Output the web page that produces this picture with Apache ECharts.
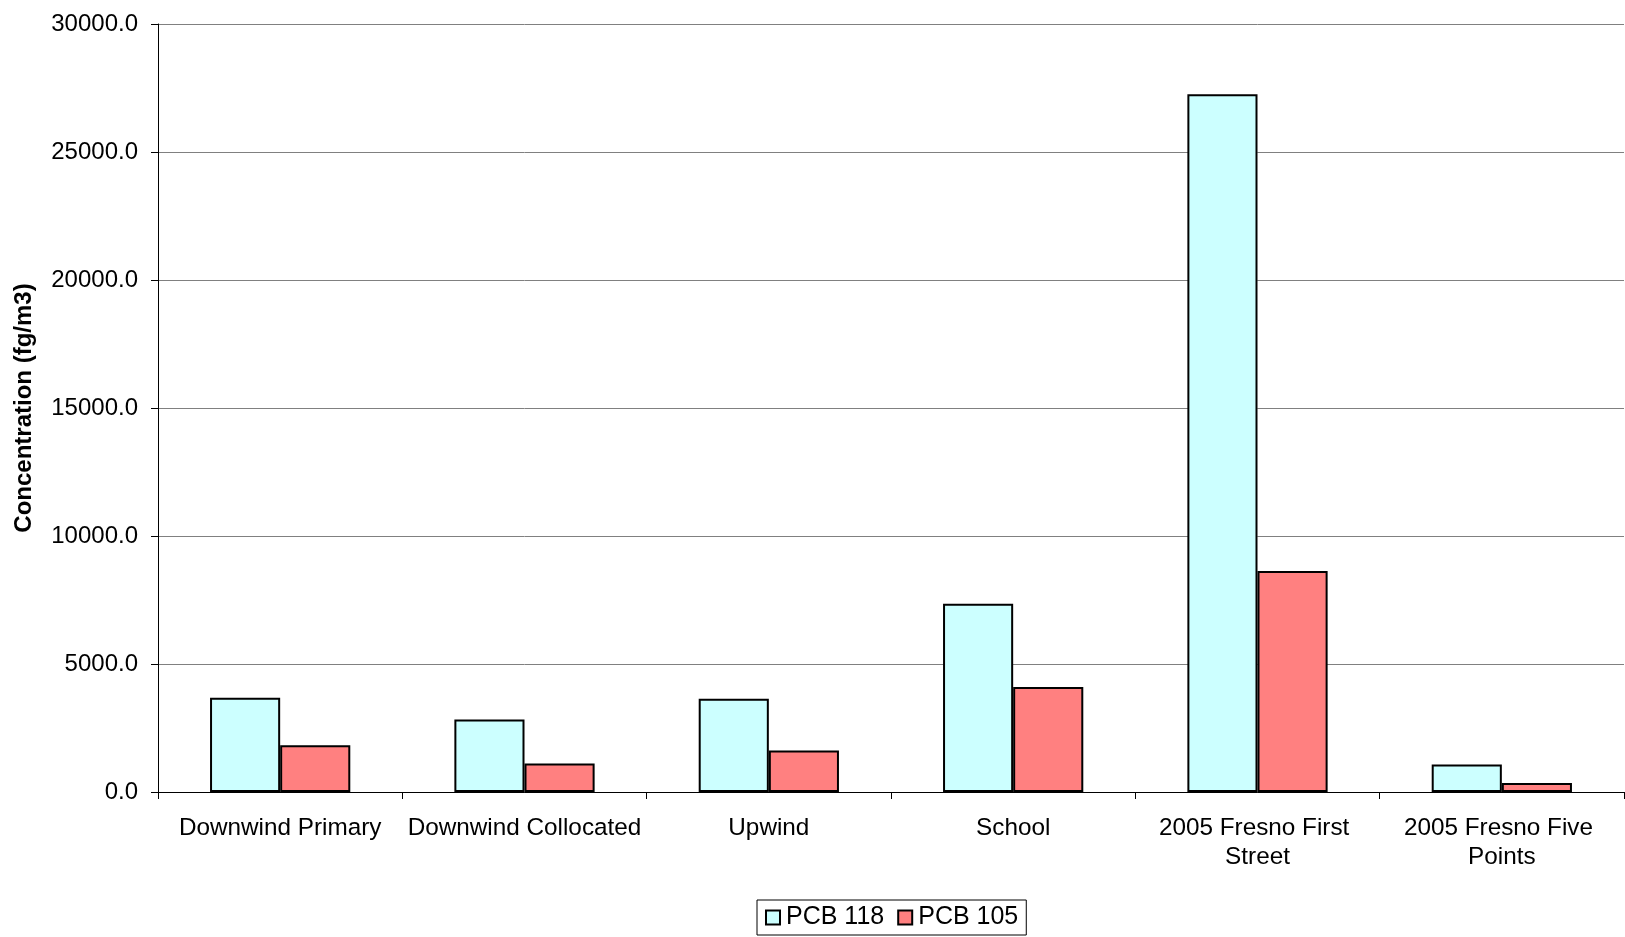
<!DOCTYPE html>
<html>
<head>
<meta charset="utf-8">
<script src="https://cdn.jsdelivr.net/npm/echarts@6/dist/echarts.min.js"></script>
<style>
html,body{margin:0;padding:0;background:#fff;}
#chart{width:1625px;height:937px;}
</style>
</head>
<body>
<div id="chart"></div>
<script>
const categories = ['Downwind Primary', 'Downwind Collocated', 'Upwind', 'School', '2005 Fresno First Street', '2005 Fresno Five Points'];
const pcb118 = [3680, 2830, 3640, 7355, 27260, 1070];
const pcb105 = [1830, 1110, 1620, 4100, 8630, 355];
const seriesNames = ['PCB 118', 'PCB 105'];
const yTicks = { min: 0, max: 30000, interval: 5000 };

const font = 'Liberation Sans, Arial, sans-serif';
const chart = echarts.init(document.getElementById('chart'), null, { renderer: 'canvas' });
chart.setOption({
  animation: false,
  backgroundColor: '#ffffff',
  textStyle: { fontFamily: font },
  grid: { left: 158, right: 1, top: 24, bottom: 145, containLabel: false },
  legend: {
    bottom: 2,
    left: 757,
    data: seriesNames,
    itemWidth: 14,
    itemHeight: 14,
    itemGap: 13,
    padding: [5, 8, 5, 8],
    borderColor: '#000',
    borderWidth: 1,
    icon: 'rect',
    textStyle: { fontSize: 25, color: '#000', fontFamily: font, padding: [0, 0, 0, 1] }
  },
  xAxis: {
    type: 'category',
    data: categories,
    axisLine: { lineStyle: { color: '#000', width: 1 } },
    axisTick: { show: true, length: 7, lineStyle: { color: '#000' } },
    axisLabel: {
      color: '#000', fontSize: 24.3, fontFamily: font, margin: 22,
      width: 240, overflow: 'break', lineHeight: 29, interval: 0
    }
  },
  yAxis: {
    type: 'value',
    min: yTicks.min, max: yTicks.max, interval: yTicks.interval,
    name: 'Concentration (fg/m3)',
    nameLocation: 'middle',
    nameGap: 122,
    nameTextStyle: { fontSize: 24, fontWeight: 'bold', color: '#000', fontFamily: font },
    axisLine: { show: true, lineStyle: { color: '#000', width: 1 } },
    axisTick: { show: true, length: 7, lineStyle: { color: '#000' } },
    axisLabel: {
      color: '#000', fontSize: 24, fontFamily: font, margin: 20,
      formatter: v => v.toFixed(1)
    },
    splitLine: { show: true, lineStyle: { color: '#808080', width: 1 } }
  },
  series: [
    {
      name: seriesNames[0], type: 'bar', data: pcb118,
      barGap: '0%', barCategoryGap: '42.6%',
      itemStyle: { color: '#CCFFFF', borderColor: '#000', borderWidth: 2 }
    },
    {
      name: seriesNames[1], type: 'bar', data: pcb105,
      itemStyle: { color: '#FF8080', borderColor: '#000', borderWidth: 2 }
    }
  ]
});
</script>
</body>
</html>
